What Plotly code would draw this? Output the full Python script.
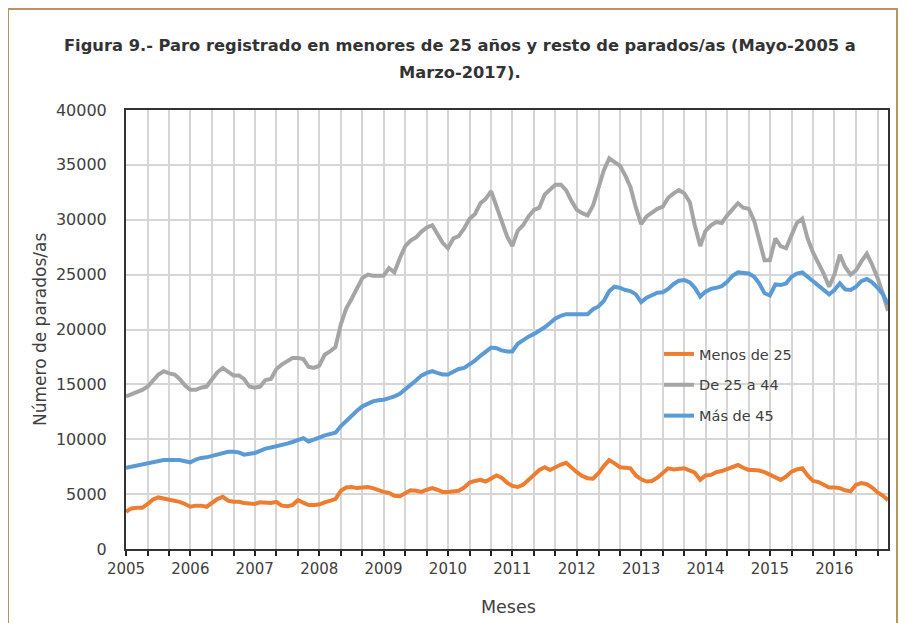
import plotly.graph_objects as go
import pandas as pd

months = pd.date_range("2005-05-01", "2017-03-01", freq="MS").strftime("%Y-%m-%d").tolist()

menos_25 = [
    3400, 3700, 3750, 3750, 4100, 4500, 4700, 4600, 4450, 4400, 4300, 4100,
    3850, 3950, 3950, 3850, 4200, 4550, 4750, 4400, 4300, 4300, 4200, 4150,
    4100, 4250, 4250, 4200, 4300, 3950, 3900, 4000, 4450, 4200, 4000, 4000,
    4050, 4250, 4400, 4550, 5300, 5600, 5650, 5550, 5600, 5650, 5550, 5350,
    5200, 5100, 4850, 4800, 5100, 5350, 5300, 5200, 5400, 5550, 5400, 5200,
    5200, 5250, 5300, 5600, 6050, 6200, 6300, 6150, 6400, 6700, 6500, 6050,
    5750, 5650, 5850, 6250, 6750, 7200, 7450, 7200, 7500, 7700, 7850, 7400,
    7000, 6650, 6450, 6400, 6900, 7550, 8100, 7800, 7450, 7400, 7350, 6700,
    6350, 6150, 6200, 6500, 6900, 7350, 7250, 7300, 7350, 7150, 6950, 6300,
    6700, 6750, 7000, 7100, 7300, 7500, 7650, 7400, 7200, 7200, 7150, 7000,
    6800, 6550, 6300, 6600, 7050, 7250, 7350, 6700, 6200, 6100, 5850, 5600,
    5600, 5550, 5350, 5250, 5850, 6000, 5900, 5600, 5150, 4850, 4450,
]

de_25_a_44 = [
    13900, 14100, 14300, 14500, 14800, 15400, 15900, 16200, 16000, 15900, 15500, 14900,
    14500, 14500, 14700, 14800, 15400, 16100, 16500, 16200, 15800, 15800, 15500, 14800,
    14700, 14800, 15400, 15500, 16400, 16800, 17100, 17400, 17400, 17300, 16600, 16500,
    16700, 17700, 18000, 18400, 20500, 21900, 22800, 23800, 24700, 25000, 24900, 24900,
    24900, 25600, 25200, 26500, 27600, 28100, 28400, 28900, 29300, 29500, 28700, 27900,
    27400, 28300, 28500, 29200, 30100, 30500, 31500, 31900, 32600, 31200, 29800, 28500,
    27600, 29000, 29500, 30300, 30900, 31100, 32300, 32700, 33200, 33200, 32700, 31700,
    30900, 30600, 30400, 31300, 33000, 34500, 35600, 35300, 34900, 34000, 33000, 31100,
    29600, 30300, 30700, 31000, 31200, 32000, 32400, 32700, 32400, 31600, 29500, 27600,
    29000, 29500, 29800, 29700, 30400, 30900, 31500, 31100, 31000, 29900, 28300, 26300,
    26300, 28300, 27600, 27400, 28600, 29700, 30100, 28300, 27000, 26100, 25100, 23900,
    25000, 26800, 25700, 25000, 25400, 26200, 26900, 25900, 24700, 23200, 21700,
]

mas_de_45 = [
    7400, 7500, 7600, 7700, 7800, 7950, 8050, 8100, 8100, 8100, 8100, 8000,
    7900, 8150, 8300, 8350, 8500, 8650, 8750, 8850, 8850, 8800, 8600, 8650,
    8750, 8950, 9150, 9250, 9350, 9500, 9600, 9750, 9900, 10100, 9800, 9950,
    10150, 10350, 10450, 10600, 11200, 11700, 12100, 12600, 13000, 13250, 13450, 13550,
    13600, 13750, 13900, 14150, 14500, 14950, 15350, 15800, 16050, 16200, 16050, 15900,
    15900, 16200, 16400, 16500, 16800, 17150, 17600, 17950, 18350, 18300, 18100, 18000,
    18000, 18700, 19050, 19350, 19600, 19850, 20200, 20600, 21000, 21250, 21400, 21400,
    21400, 21400, 21400, 21850, 22100, 22600, 23500, 23900, 23800, 23600, 23500, 23200,
    22500, 22900, 23150, 23350, 23400, 23700, 24150, 24450, 24500, 24300, 23800, 23000,
    23450, 23700, 23800, 23950, 24350, 24900, 25200, 25150, 25100, 24800, 24200, 23300,
    23100, 24100, 24050, 24200, 24800, 25100, 25200, 24800, 24400, 24000, 23700, 23200,
    23600, 24200, 23650, 23600, 23900, 24400, 24600, 24300, 23800, 23200, 22300,
]

series_names = ["Menos de 25", "De 25 a 44", "Más de 45"]
series_values = [menos_25, de_25_a_44, mas_de_45]
series_colors = ["#ED7D31", "#A5A5A5", "#5B9BD5"]

title_lines = ["Figura 9.- Paro registrado en menores de 25 años y resto de parados/as (Mayo-2005 a",
               "Marzo-2017)."]
y_title = "Número de parados/as"
x_title = "Meses"

tick_vals = months[::4]
tick_text = [m[:4] if i % 3 == 0 else "" for i, m in enumerate(tick_vals)]

FONT = "DejaVu Sans"
TXT = "#404040"

# The page body has an 8px margin, so figure coords = screen coords - 8
OFF = 8
W, H = 907 - OFF, 623 - OFF
L, R, T, B = 126 - OFF, 888 - OFF, 110 - OFF, 549 - OFF
PW, PH = R - L, B - T

def px(x):  # screen x -> paper fraction
    return (x - OFF - L) / PW

def py(y):  # screen y -> paper fraction
    return (B - (y - OFF)) / PH

fig = go.Figure()
for name, vals, col in zip(series_names, series_values, series_colors):
    fig.add_trace(go.Scatter(
        x=months, y=vals, name=name, mode="lines",
        line=dict(color=col, width=4), legendgroup=name,
    ))

fig.update_layout(
    width=W, height=H,
    margin=dict(l=L, r=W - R, t=T, b=H - B),
    paper_bgcolor="white", plot_bgcolor="white",
    font=dict(family=FONT, color=TXT),
    showlegend=True,
    legend=dict(
        x=px(659), y=py(338), xanchor="left", yanchor="top",
        bgcolor="rgba(0,0,0,0)", font=dict(size=14.5, color=TXT),
        traceorder="grouped", tracegroupgap=9,
    ),
    shapes=[dict(
        type="rect", xref="paper", yref="paper",
        x0=px(8), x1=px(897), y0=py(700), y1=py(9),
        line=dict(color="#B8955A", width=2), layer="below",
    )],
    annotations=[
        dict(text="<b>" + title_lines[0] + "</b>", xref="paper", yref="paper",
             x=px(460), y=py(45), xanchor="center", yanchor="middle", showarrow=False,
             font=dict(family=FONT, size=16.3, color="#333333")),
        dict(text="<b>" + title_lines[1] + "</b>", xref="paper", yref="paper",
             x=px(460), y=py(72), xanchor="center", yanchor="middle", showarrow=False,
             font=dict(family=FONT, size=16.3, color="#333333")),
        dict(text=y_title, xref="paper", yref="paper", textangle=-90,
             x=px(40), y=py(330), xanchor="center", yanchor="middle", showarrow=False,
             font=dict(family=FONT, size=17, color=TXT)),
        dict(text=x_title, xref="paper", yref="paper",
             x=px(508), y=py(607), xanchor="center", yanchor="middle", showarrow=False,
             font=dict(family=FONT, size=17.5, color=TXT)),
    ],
)

fig.update_xaxes(
    type="date", range=[months[0], months[-1]], automargin=False,
    tickmode="array", tickvals=tick_vals, ticktext=tick_text,
    showgrid=True, gridcolor="#D6D6D6", gridwidth=1.5,
    ticks="outside", ticklen=5, tickcolor="#222222", tickwidth=1.5,
    showline=True, linecolor="#333333", linewidth=2, mirror=True,
    tickfont=dict(size=15, color=TXT),
)
fig.update_yaxes(
    range=[0, 40000], dtick=5000, tickformat="d", automargin=False,
    showgrid=True, gridcolor="#D6D6D6", gridwidth=1.5,
    showline=True, linecolor="#333333", linewidth=2, mirror=True,
    ticks="", tickfont=dict(size=16, color=TXT), ticklabelstandoff=14,
    zeroline=False,
)

fig.write_html("out.html")
